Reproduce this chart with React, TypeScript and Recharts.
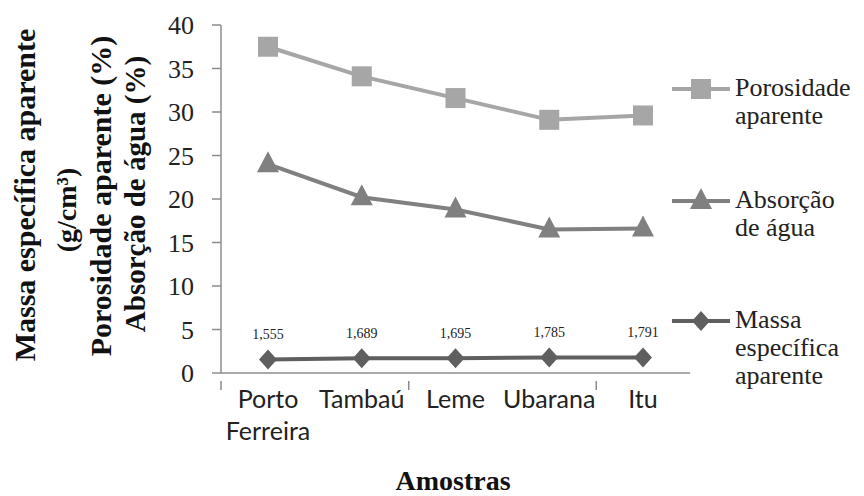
import React from "react";
import { LineChart, Line, XAxis, YAxis, Legend, LabelList } from "recharts";

const categories = ["Porto Ferreira", "Tambaú", "Leme", "Ubarana", "Itu"];
const porosidade = [37.5, 34.1, 31.6, 29.1, 29.6];
const absorcao = [24.0, 20.2, 18.8, 16.5, 16.6];
const massa = [1.555, 1.689, 1.695, 1.785, 1.791];
const yTicks = [0, 5, 10, 15, 20, 25, 30, 35, 40];

const seriesNames = {
  porosidade: ["Porosidade", "aparente"],
  absorcao: ["Absorção", "de água"],
  massa: ["Massa", "específica", "aparente"],
};

const COLORS = { porosidade: "#a6a6a6", absorcao: "#808080", massa: "#5f5f5f" };
const AXIS = "#8c8c8c";
const SERIF = "'Liberation Serif', 'DejaVu Serif', serif";
const SANS = "Lato, 'Liberation Sans', sans-serif";

const data = categories.map((name, i) => ({
  name,
  porosidade: porosidade[i],
  absorcao: absorcao[i],
  massa: massa[i],
}));

// marker shapes
const Square = ({ cx, cy, fill }: any) =>
  cx == null ? null : <rect x={cx - 10} y={cy - 10} width={20} height={20} fill={fill} />;

const Triangle = ({ cx, cy, fill }: any) =>
  cx == null ? null : (
    <polygon points={`${cx},${cy - 13} ${cx + 11},${cy + 8} ${cx - 11},${cy + 8}`} fill={fill} />
  );

const Diamond = ({ cx, cy, fill }: any) =>
  cx == null ? null : (
    <polygon points={`${cx},${cy - 10} ${cx + 9},${cy} ${cx},${cy + 10} ${cx - 9},${cy}`} fill={fill} />
  );

// half of a category slot, used for the tick marks between categories
const HALF = 47;

const XTick = ({ x, y, payload, index }: any) => {
  const words = String(payload.value).split(" ");
  return (
    <g>
      {(index === 1 || index === 3) && (
        <line x1={x + HALF} x2={x + HALF} y1={y} y2={y + 9} stroke={AXIS} strokeWidth={1.5} />
      )}
      {index === 0 && <line x1={x - HALF} x2={x - HALF} y1={y} y2={y + 9} stroke={AXIS} strokeWidth={1.5} />}
      <text x={x} y={y + 27} textAnchor="middle" fontFamily={SANS} fontSize={25} fill="#222">
        {words.map((w, i) => (
          <tspan key={i} x={x} dy={i === 0 ? 0 : 32}>
            {w}
          </tspan>
        ))}
      </text>
    </g>
  );
};

const YLabel = () => {
  const rot = (x: number, y: number) => `rotate(-90, ${x}, ${y})`;
  const style = { fontFamily: SERIF, fontWeight: 700, fill: "#111" };
  return (
    <g>
      <text x={24} y={195} transform={rot(24, 195)} textAnchor="middle" dominantBaseline="central" fontSize={30} style={style}>
        Massa específica  aparente
      </text>
      <text x={66} y={210} transform={rot(66, 210)} textAnchor="middle" dominantBaseline="central" fontSize={28} style={style}>
        (g/cm³)
      </text>
      <text x={100} y={196} transform={rot(100, 196)} textAnchor="middle" dominantBaseline="central" fontSize={30} style={style}>
        Porosidade aparente (%)
      </text>
      <text x={135} y={194} transform={rot(135, 194)} textAnchor="middle" dominantBaseline="central" fontSize={29} style={style}>
        Absorção de água (%)
      </text>
    </g>
  );
};

const XLabel = () => (
  <text x={453} y={490} textAnchor="middle" fontFamily={SERIF} fontWeight={700} fontSize={28} fill="#111">
    Amostras
  </text>
);

const legendItems = [
  { key: "porosidade", Shape: Square, top: 74 },
  { key: "absorcao", Shape: Triangle, top: 186 },
  { key: "massa", Shape: Diamond, top: 306 },
] as const;

const LegendContent = () => (
  <div style={{ position: "relative", height: 0 }}>
    {legendItems.map(({ key, Shape, top }) => (
      <div key={key} style={{ position: "absolute", left: 672, top, display: "flex", alignItems: "flex-start" }}>
        <svg width={60} height={30} style={{ flex: "none" }}>
          <line x1={0} x2={58} y1={15} y2={15} stroke={COLORS[key]} strokeWidth={4} />
          <Shape cx={29} cy={15} fill={COLORS[key]} />
        </svg>
        <div
          style={{
            marginLeft: 3,
            fontFamily: SERIF,
            fontSize: 26,
            lineHeight: "28px",
            color: "#222",
            textAlign: "left",
            whiteSpace: "nowrap",
          }}
        >
          {seriesNames[key].map((t) => (
            <div key={t}>{t}</div>
          ))}
        </div>
      </div>
    ))}
  </div>
);

export default function App() {
  return (
    <div style={{ position: "absolute", left: 0, top: 0, width: 864, height: 496, background: "#fff" }}>
      <LineChart width={864} height={496} data={data} margin={{ top: 25, right: 174, bottom: 0, left: 0 }}>
        <XAxis
          dataKey="name"
          height={123}
          padding={{ left: HALF, right: HALF }}
          axisLine={{ stroke: AXIS, strokeWidth: 1.5 }}
          tickLine={false}
          tick={<XTick />}
          interval={0}
          label={<XLabel />}
        />
        <YAxis
          width={221}
          domain={[0, 40]}
          ticks={yTicks}
          interval={0}
          axisLine={{ stroke: AXIS, strokeWidth: 1.5 }}
          tickLine={{ stroke: AXIS, strokeWidth: 1.5 }}
          tickSize={9}
          tickMargin={18}
          tick={{ fontFamily: SERIF, fontSize: 26, fill: "#222" }}
          label={<YLabel />}
        />
        <Legend verticalAlign="top" wrapperStyle={{ top: 0, left: 0, width: 864, height: 0 }} content={<LegendContent />} />
        <Line
          dataKey="porosidade"
          stroke={COLORS.porosidade}
          strokeWidth={4}
          dot={<Square fill={COLORS.porosidade} />}
          isAnimationActive={false}
        />
        <Line
          dataKey="absorcao"
          stroke={COLORS.absorcao}
          strokeWidth={4}
          dot={<Triangle fill={COLORS.absorcao} />}
          isAnimationActive={false}
        />
        <Line
          dataKey="massa"
          stroke={COLORS.massa}
          strokeWidth={4}
          dot={<Diamond fill={COLORS.massa} />}
          isAnimationActive={false}
        >
          <LabelList
            dataKey="massa"
            position="top"
            offset={20}
            formatter={(v: any) => String(v).replace(".", ",")}
            style={{ fontFamily: SERIF, fontSize: 14, fill: "#222" }}
          />
        </Line>
      </LineChart>
    </div>
  );
}
